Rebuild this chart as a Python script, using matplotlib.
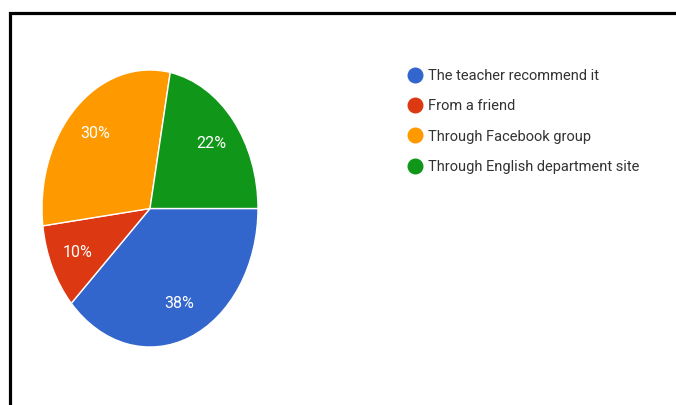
import matplotlib.pyplot as plt
from matplotlib.lines import Line2D

labels = ['The teacher recommend it', 'From a friend',
          'Through Facebook group', 'Through English department site']
shares = [38, 10, 30, 22]
colors = ['#3366cc', '#dc3912', '#ff9900', '#109618']

W, H = 676, 405
fig = plt.figure(figsize=(W / 100, H / 100), dpi=100)
plt.rcParams['font.family'] = ['Roboto', 'DejaVu Sans']

# pie axes: stretched taller than wide
ax = fig.add_axes([42 / W, (H - 347) / H, 216 / W, 277 / H])
wedges, _, autotexts = ax.pie(
    shares, colors=colors, startangle=0, counterclock=False,
    autopct='%d%%', pctdistance=0.74,
    wedgeprops=dict(edgecolor='white', linewidth=1),
    textprops=dict(color='white', fontsize=11.5))
ax.set_aspect('auto')
ax.set_xlim(-1, 1)
ax.set_ylim(-1, 1)

handles = [Line2D([], [], marker='o', linestyle='none', markersize=10.5,
                  markerfacecolor=c, markeredgecolor=c) for c in colors]
fig.legend(handles, labels, loc='upper left',
           bbox_to_anchor=(400 / W, 1 - 63 / H), frameon=False,
           fontsize=10.5, labelcolor='#333333', labelspacing=1.12,
           handletextpad=0.3, handlelength=1.2, borderaxespad=0)

# black frame along the top and left edges
fig.add_artist(Line2D([9.5 / W, 9.5 / W, 1], [0, 1 - 12.5 / H, 1 - 12.5 / H],
                      transform=fig.transFigure, color='black', linewidth=2.3,
                      solid_joinstyle='miter'))

fig.savefig('out.png', dpi=100)
